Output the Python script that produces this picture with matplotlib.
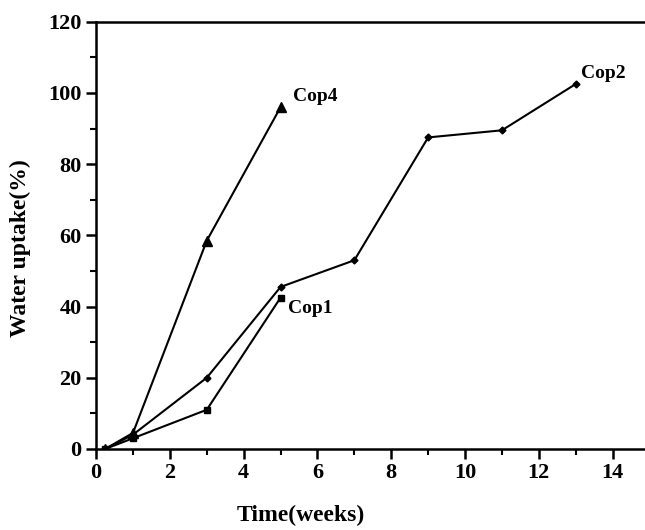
import matplotlib
matplotlib.use("Agg")
import matplotlib.pyplot as plt
from matplotlib.ticker import MultipleLocator

# data (time in weeks, water uptake in %)
weeks_cop1 = [0.25, 1, 3, 5]
uptake_cop1 = [0, 3, 11, 42.5]

weeks_cop2 = [0.25, 1, 3, 5, 7, 9, 11, 13]
uptake_cop2 = [0, 4, 20, 45.5, 53, 87.5, 89.5, 102.5]

weeks_cop4 = [0.25, 1, 3, 5]
uptake_cop4 = [0, 4.5, 58.5, 96]

series_labels = ["Cop1", "Cop2", "Cop4"]
label_pos = [(5.2, 39.5), (13.15, 105.5), (5.35, 99)]

plt.rcParams['font.family'] = ['Liberation Serif', 'DejaVu Serif']
plt.rcParams['font.weight'] = 'bold'

fig = plt.figure(figsize=(6.45, 5.3), dpi=100)
ax = fig.add_axes([0.149, 0.153, 0.858, 0.806])

ax.plot(weeks_cop1, uptake_cop1, color='black', lw=1.5, marker='s', ms=5)
ax.plot(weeks_cop2, uptake_cop2, color='black', lw=1.5, marker='D', ms=3.5)
ax.plot(weeks_cop4, uptake_cop4, color='black', lw=1.5, marker='^', ms=7)

for name, (x, y) in zip(series_labels, label_pos):
    ax.text(x, y, name, fontsize=14, fontweight='bold', ha='left', va='center')

ax.set_xlim(0, 15)
ax.set_ylim(0, 120)
ax.xaxis.set_major_locator(MultipleLocator(2))
ax.xaxis.set_minor_locator(MultipleLocator(1))
ax.yaxis.set_major_locator(MultipleLocator(20))
ax.yaxis.set_minor_locator(MultipleLocator(10))

ax.spines['right'].set_visible(False)
for side in ['left', 'bottom', 'top']:
    ax.spines[side].set_linewidth(1.8)

ax.tick_params(which='major', direction='out', length=7, width=1.8,
               labelsize=16, top=False, right=False)
ax.tick_params(which='minor', direction='out', length=4, width=1.5,
               top=False, right=False)
for lbl in ax.get_xticklabels() + ax.get_yticklabels():
    lbl.set_fontweight('bold')

ax.set_xlabel("Time(weeks)", fontsize=17, fontweight='bold')
ax.set_ylabel("Water uptake(%)", fontsize=17, fontweight='bold')
ax.xaxis.set_label_coords(0.369, -0.13)
ax.yaxis.set_label_coords(-0.118, 0.47)

fig.savefig("out.png", dpi=100)
